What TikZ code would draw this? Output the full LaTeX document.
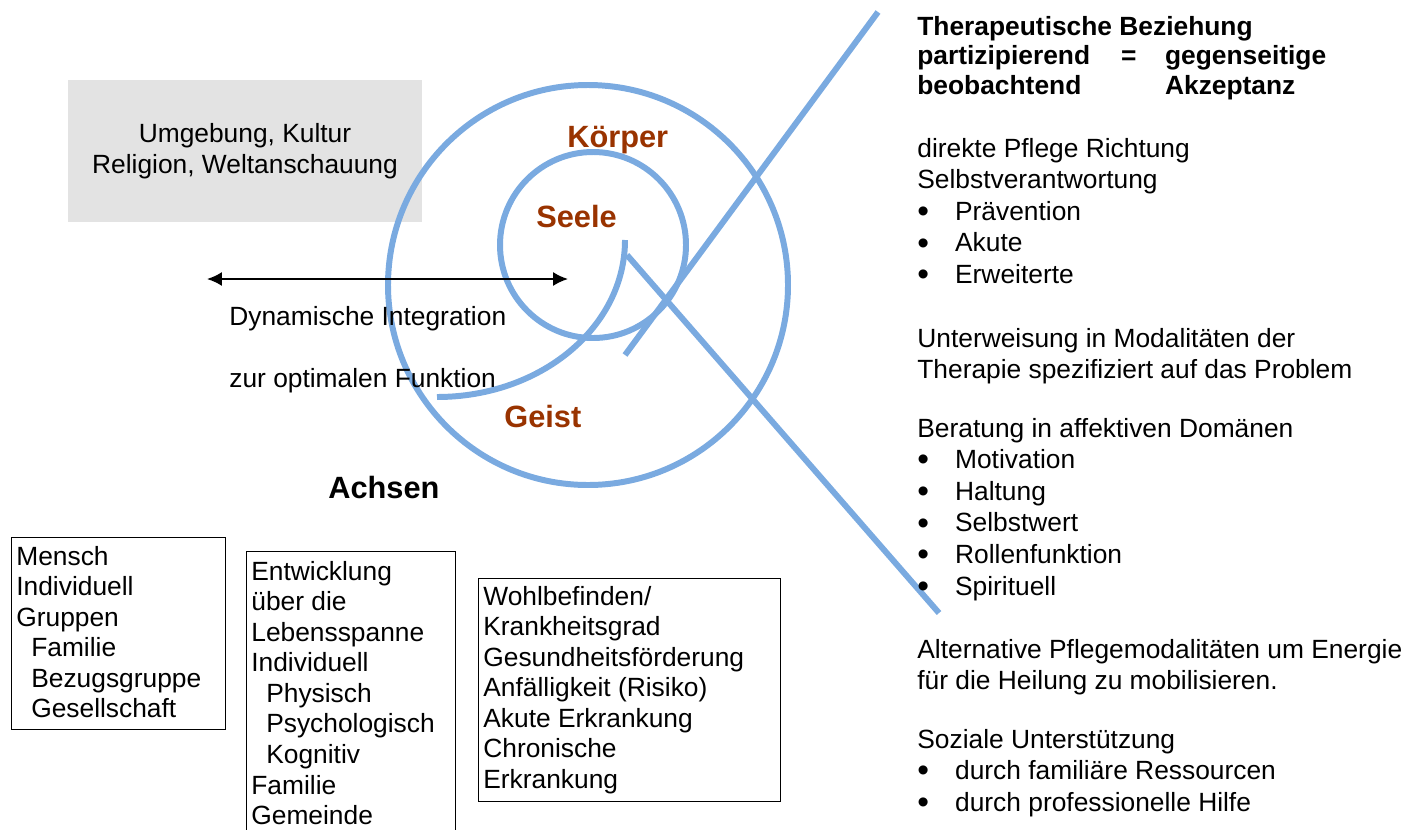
\documentclass[tikz,border=0pt]{standalone}
\usepackage{fontspec}
\setmainfont{Liberation Sans}
\usetikzlibrary{arrows.meta}
\definecolor{spiralblue}{RGB}{122,170,224}
\definecolor{partbrown}{RGB}{153,51,0}
\definecolor{envgray}{RGB}{227,227,227}
\newcommand{\bul}{\makebox[21.5pt][l]{\raisebox{-1.3pt}{\fontsize{19}{19}\selectfont\textbullet}}}
\newcommand{\ind}{\hspace*{8.5pt}}
\newcommand{\stack}[1]{\begin{tabular}[t]{@{}l@{}}#1\end{tabular}}
\tikzset{
  spiral/.style={draw=spiralblue,line width=3.4pt},
  flow/.style={{Latex[length=8.5pt,width=8pt]}-{Latex[length=8.5pt,width=8pt]},line width=1.1pt},
  part/.style={font=\fontsize{17.5}{20}\selectfont\bfseries,text=partbrown,anchor=base west,inner sep=0pt},
  axislabel/.style={part,text=black},
  body/.style={font=\fontsize{15}{18}\selectfont,anchor=base west,inner sep=0pt},
  headtext/.style={body,font=\fontsize{15}{17}\selectfont\bfseries},
  boxtext/.style={body,font=\fontsize{15}{17.4}\selectfont},
  axisframe/.style={draw=black,line width=0.8pt,anchor=north west,inner sep=0pt},
  envbox/.style={fill=envgray,minimum width=7.08cm,minimum height=2.84cm,
                 align=center,font=\fontsize{15}{17.6}\selectfont},
}
\begin{document}
\begin{tikzpicture}[x=0.02cm,y=-0.02cm]
  \useasboundingbox (0,0) rectangle (1412,829);
  \clip (0,0) rectangle (1412,829);

  % Umgebung
  \node[envbox] (ENV) at (245,151) {Umgebung, Kultur\\Religion, Weltanschauung};

  \node[part] (KOERPER) at (567,147) {Körper};

  % spiral and the two crossing strokes
  \draw[spiral] (588,285) circle[radius=200];
  \draw[spiral] (593,245) circle[radius=93];
  \draw[spiral] (625,240) .. controls (625,327) and (541,397) .. (437,397);
  \coordinate (CROSSA1) at (625,355);
  \coordinate (CROSSA2) at (878,12);
  \coordinate (CROSSB1) at (627,255);
  \coordinate (CROSSB2) at (939,613);
  \draw[spiral] (CROSSA1) -- (CROSSA2);
  \draw[spiral] (CROSSB1) -- (CROSSB2);

  \node[part] (SEELE) at (536,227) {Seele};
  \node[part] (GEIST) at (504,427) {Geist};

  % Dynamische Integration
  \coordinate (INTL) at (207,279);
  \coordinate (INTR) at (568,279);
  \draw[flow] (INTL) -- (INTR);
  \node[body] (DYN) at (229,325) {Dynamische Integration};
  \node[body] (FUNK) at (229,387) {zur optimalen Funktion};

  % Achsen
  \node[axislabel] (ACHSEN) at (328,498) {Achsen};
  \node[axisframe,minimum width=4.28cm,minimum height=3.84cm] (MENSCHBOX) at (11,537) {};
  \node[boxtext] (MENSCH) at (16,565)
    {\stack{Mensch\\Individuell\\Gruppen\\\ind Familie\\\ind Bezugsgruppe\\\ind Gesellschaft}};
  \node[axisframe,minimum width=4.18cm,minimum height=5.88cm] (ENTWBOX) at (246,551) {};
  \node[boxtext] (ENTW) at (251,580)
    {\stack{Entwicklung\\über die\\Lebensspanne\\Individuell\\\ind Physisch\\\ind Psychologisch\\\ind Kognitiv\\Familie\\Gemeinde}};
  \node[axisframe,minimum width=6.04cm,minimum height=4.46cm] (WOHLBOX) at (478,578) {};
  \node[boxtext] (WOHL) at (483,605)
    {\stack{Wohlbefinden/\\Krankheitsgrad\\Gesundheitsförderung\\Anfälligkeit (Risiko)\\Akute Erkrankung\\Chronische\\Erkrankung}};

  % Pflege rechts
  \node[headtext] (BEZ) at (917,35)
    {\stack{Therapeutische Beziehung\\
     \makebox[116pt][l]{partizipierend}\makebox[25pt][l]{=}gegenseitige\\
     \makebox[141pt][l]{beobachtend}Akzeptanz}};
  \node[body] (DIREKT) at (917,157)
    {\stack{direkte Pflege Richtung\\Selbstverantwortung\\\bul Prävention\\\bul Akute\\\bul Erweiterte}};
  \node[body] (UNTERW) at (917,347)
    {\stack{Unterweisung in Modalitäten der\\Therapie spezifiziert auf das Problem}};
  \node[body] (BERAT) at (917,437)
    {\stack{Beratung in affektiven Domänen\\\bul Motivation\\\bul Haltung\\\bul Selbstwert\\\bul Rollenfunktion\\\bul Spirituell}};
  \node[body] (ALT) at (917,658)
    {\stack{Alternative Pflegemodalitäten um Energie\\für die Heilung zu mobilisieren.}};
  \node[body] (SOZ) at (917,748)
    {\stack{Soziale Unterstützung\\\bul durch familiäre Ressourcen\\\bul durch professionelle Hilfe}};
\end{tikzpicture}
\end{document}
